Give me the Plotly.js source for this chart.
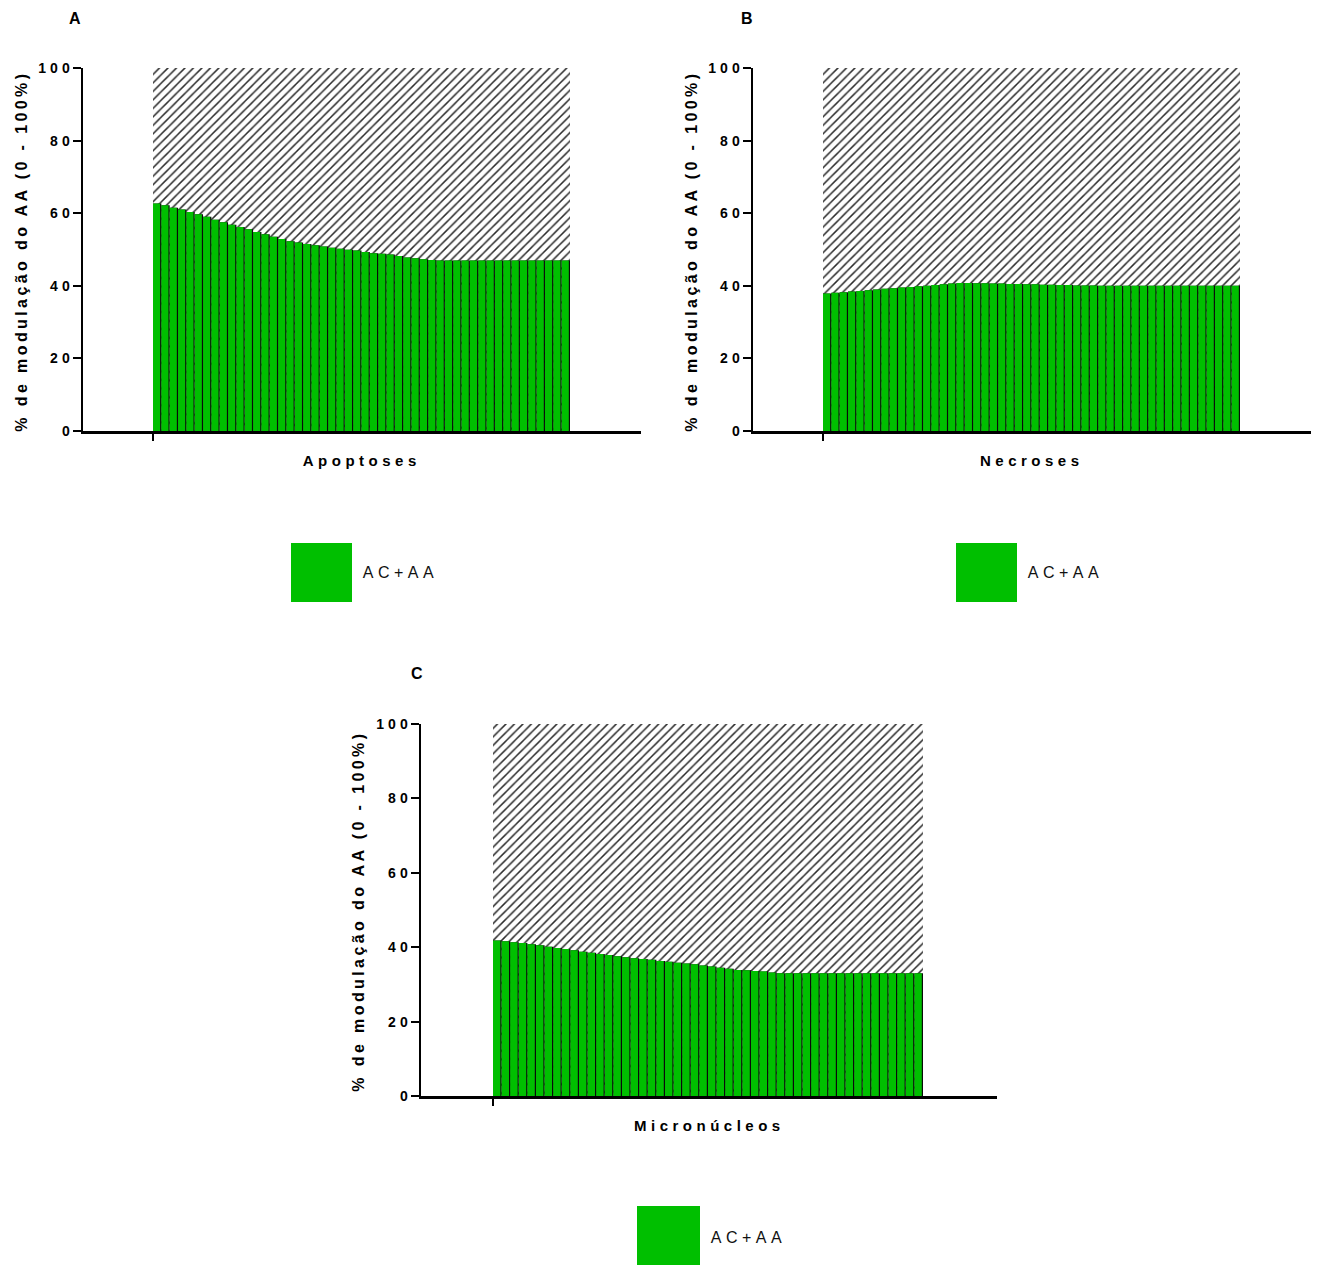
<!DOCTYPE html>
<html>
<head>
<meta charset="utf-8">
<script src="https://cdn.plot.ly/plotly-3.0.1.min.js"></script>
<style>
  html, body { margin: 0; padding: 0; background: #fff; }
  #chart { width: 1320px; height: 1266px; }
</style>
</head>
<body>
<div id="chart"></div>
<script>
// ---- data ----
const panelLetters = ["A", "B", "C"];
const categoryNames = ["Apoptoses", "Necroses", "Micronúcleos"];
const seriesName = "AC+AA";
const yTitle = "% de modulação do AA (0 - 100%)";
const yTickVals = [0, 20, 40, 60, 80, 100];
const totalValue = 100;

const apoptoses = [62.7, 62.2, 61.5, 61.0, 60.3, 59.7, 59.0, 58.2, 57.5, 56.8,
                   56.2, 55.6, 54.8, 54.2, 53.5, 52.9, 52.3, 51.9, 51.5, 51.2,
                   50.8, 50.5, 50.2, 49.9, 49.7, 49.3, 49.0, 48.8, 48.6, 48.2,
                   47.8, 47.6, 47.3, 47.1, 47.0, 47.0, 47.0, 47.0, 47.0, 47.0,
                   47.0, 47.0, 47.0, 47.0, 47.0, 47.0, 47.0, 47.0, 47.0, 47.0];
const necroses = [37.9, 38.1, 38.2, 38.4, 38.6, 38.8, 39.0, 39.2, 39.3, 39.5,
                  39.7, 39.9, 40.0, 40.2, 40.4, 40.6, 40.8, 40.8, 40.7, 40.7,
                  40.6, 40.6, 40.5, 40.5, 40.4, 40.4, 40.3, 40.3, 40.2, 40.2,
                  40.1, 40.1, 40.1, 40.0, 40.0, 40.0, 40.0, 40.0, 40.0, 40.0,
                  40.0, 40.0, 40.0, 40.0, 40.0, 40.0, 40.0, 40.0, 40.0, 40.0];
const micronucleos = [41.8, 41.6, 41.3, 41.1, 40.8, 40.5, 40.1, 39.8, 39.5, 39.2,
                      38.8, 38.5, 38.2, 37.9, 37.6, 37.3, 37.0, 36.8, 36.6, 36.3,
                      36.1, 35.8, 35.6, 35.4, 35.1, 34.8, 34.5, 34.2, 33.9, 33.8,
                      33.6, 33.5, 33.2, 33.0, 33.0, 33.0, 33.0, 33.0, 33.0, 33.0,
                      33.0, 33.0, 33.0, 33.0, 33.0, 33.0, 33.0, 33.0, 33.0, 33.0];
const panelSeries = [apoptoses, necroses, micronucleos];

// ---- styling / layout (pixels) ----
const W = 1320, H = 1266;
const GREEN = "#00BF00";
const px = v => v / W;
const py = v => 1 - v / H;

const panels = [
  { x0: 83,  x1: 641,  y0: 68,  y1: 431,  barL: 153, barR: 570,
    letter: [75, 18], ytitle: [21, 251], xtitle: [362, 460],
    leg: { sx0: 291, sx1: 352, sy0: 543, sy1: 602, tx: 400, ty: 573 } },
  { x0: 753, x1: 1311, y0: 68,  y1: 431,  barL: 823, barR: 1240,
    letter: [747, 18], ytitle: [691, 251], xtitle: [1032, 460],
    leg: { sx0: 956, sx1: 1017, sy0: 543, sy1: 602, tx: 1065, ty: 573 } },
  { x0: 421, x1: 997,  y0: 724, y1: 1096, barL: 493, barR: 923,
    letter: [417, 673], ytitle: [358, 911], xtitle: [709, 1125],
    leg: { sx0: 637, sx1: 700, sy0: 1206, sy1: 1265, tx: 748, ty: 1237 } }
];

const traces = [];
const layout = {
  width: W, height: H,
  margin: { l: 0, r: 0, t: 0, b: 0 },
  paper_bgcolor: "#fff", plot_bgcolor: "#fff",
  showlegend: false,
  barmode: "overlay",
  annotations: [], shapes: []
};

const fontFam = "Liberation Sans, Arial, sans-serif";

panels.forEach((p, k) => {
  const vals = panelSeries[k];
  const n = vals.length;
  const sfx = k === 0 ? "" : String(k + 1);
  const xa = "x" + sfx, ya = "y" + sfx;
  const unit = (p.barR - p.barL) / n;
  const rngL = (p.x0 - p.barL) / unit;
  const rngR = n + (p.x1 - p.barR) / unit;

  // hatched reference (100%) region
  traces.push({
    type: "bar", xaxis: xa, yaxis: ya,
    x: [n / 2], y: [totalValue], width: [n],
    marker: { color: "#ffffff", line: { width: 0 },
              pattern: { shape: "/", size: 6, solidity: 0.25, fgcolor: "#2b2b2b", bgcolor: "#ffffff", fillmode: "replace" } },
    hoverinfo: "skip"
  });
  // dark separators
  traces.push({
    type: "bar", xaxis: xa, yaxis: ya,
    x: vals.map((v, i) => i + 0.5), y: vals, width: vals.map(() => 1),
    marker: { color: "#0a0a0a", line: { width: 0 } },
    hoverinfo: "skip"
  });
  // green bars
  traces.push({
    type: "bar", xaxis: xa, yaxis: ya, name: seriesName,
    x: vals.map((v, i) => i + 0.43), y: vals, width: vals.map(() => 0.86),
    marker: { color: GREEN, line: { width: 0 } }
  });

  layout["xaxis" + sfx] = {
    domain: [px(p.x0), px(p.x1)], anchor: ya,
    range: [rngL, rngR], showgrid: false, zeroline: false,
    showline: true, linecolor: "#000", linewidth: 2.5,
    ticks: "outside", ticklen: 7, tickwidth: 2, tickcolor: "#000",
    tickmode: "array", tickvals: [0], ticktext: [""],
    fixedrange: true
  };
  layout["yaxis" + sfx] = {
    domain: [py(p.y1), py(p.y0)], anchor: xa,
    range: [0, totalValue], showgrid: false, zeroline: false,
    showline: true, linecolor: "#000", linewidth: 2.5,
    ticks: "outside", ticklen: 8, tickwidth: 2, tickcolor: "#000",
    tickmode: "array", tickvals: yTickVals, ticktext: yTickVals.map(String),
    tickfont: { family: fontFam, size: 14, color: "#000", weight: "bold" },
    ticklabelstandoff: -4,
    fixedrange: true
  };

  layout.annotations.push(
    { xref: "paper", yref: "paper", x: px(p.letter[0]), y: py(p.letter[1]),
      xanchor: "center", yanchor: "middle", showarrow: false, text: "<b>" + panelLetters[k] + "</b>",
      font: { family: fontFam, size: 16, color: "#000" } },
    { xref: "paper", yref: "paper", x: px(p.ytitle[0]), y: py(p.ytitle[1]),
      xanchor: "center", yanchor: "middle", showarrow: false, text: "<b>" + yTitle + "</b>", textangle: -90,
      font: { family: fontFam, size: 16, color: "#000" } },
    { xref: "paper", yref: "paper", x: px(p.xtitle[0]), y: py(p.xtitle[1]),
      xanchor: "center", yanchor: "middle", showarrow: false, text: "<b>" + categoryNames[k] + "</b>",
      font: { family: fontFam, size: 15, color: "#000" } },
    { xref: "paper", yref: "paper", x: px(p.leg.tx), y: py(p.leg.ty),
      xanchor: "center", yanchor: "middle", showarrow: false, text: seriesName,
      font: { family: fontFam, size: 16, color: "#111" } }
  );
  layout.shapes.push({
    type: "rect", xref: "paper", yref: "paper",
    x0: px(p.leg.sx0), x1: px(p.leg.sx1), y0: py(p.leg.sy1), y1: py(p.leg.sy0),
    fillcolor: GREEN, line: { width: 0 }
  });
});

Plotly.newPlot("chart", traces, layout, { staticPlot: true, displayModeBar: false }).then(gd => {
  gd.querySelectorAll("g.ytick text, g.y2tick text, g.y3tick text").forEach(t => { t.style.letterSpacing = "4px"; });
  gd.querySelectorAll(".annotation-text").forEach(t => {
    const s = t.textContent;
    if (s.length > 1) t.style.letterSpacing = (s === seriesName) ? "4.5px" : (s === yTitle ? "3.4px" : "4.5px");
  });
});
</script>
</body>
</html>
